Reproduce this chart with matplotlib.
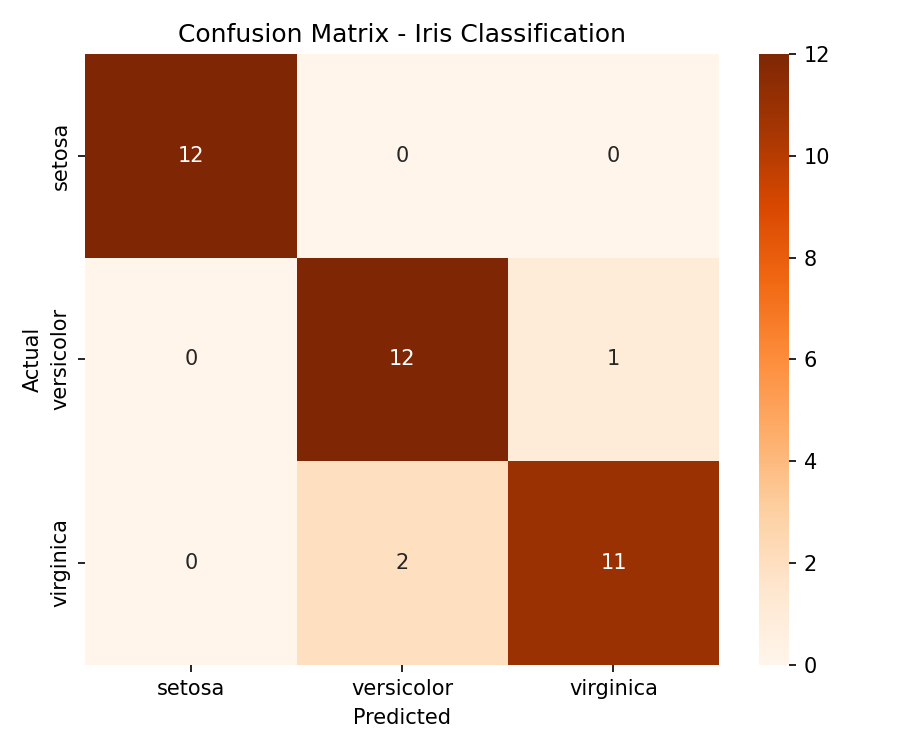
import numpy as np
import matplotlib
matplotlib.use("Agg")
import matplotlib.pyplot as plt
import seaborn as sns

labels = ["setosa", "versicolor", "virginica"]
cm = np.array([[12, 0, 0],
               [0, 12, 1],
               [0, 2, 11]])

plt.figure(figsize=(6, 5), dpi=150)
sns.heatmap(cm, annot=True, fmt="d", cmap="Oranges",
            xticklabels=labels, yticklabels=labels)
plt.xlabel("Predicted")
plt.ylabel("Actual")
plt.title("Confusion Matrix - Iris Classification")
plt.tight_layout()
plt.savefig("out.png")
